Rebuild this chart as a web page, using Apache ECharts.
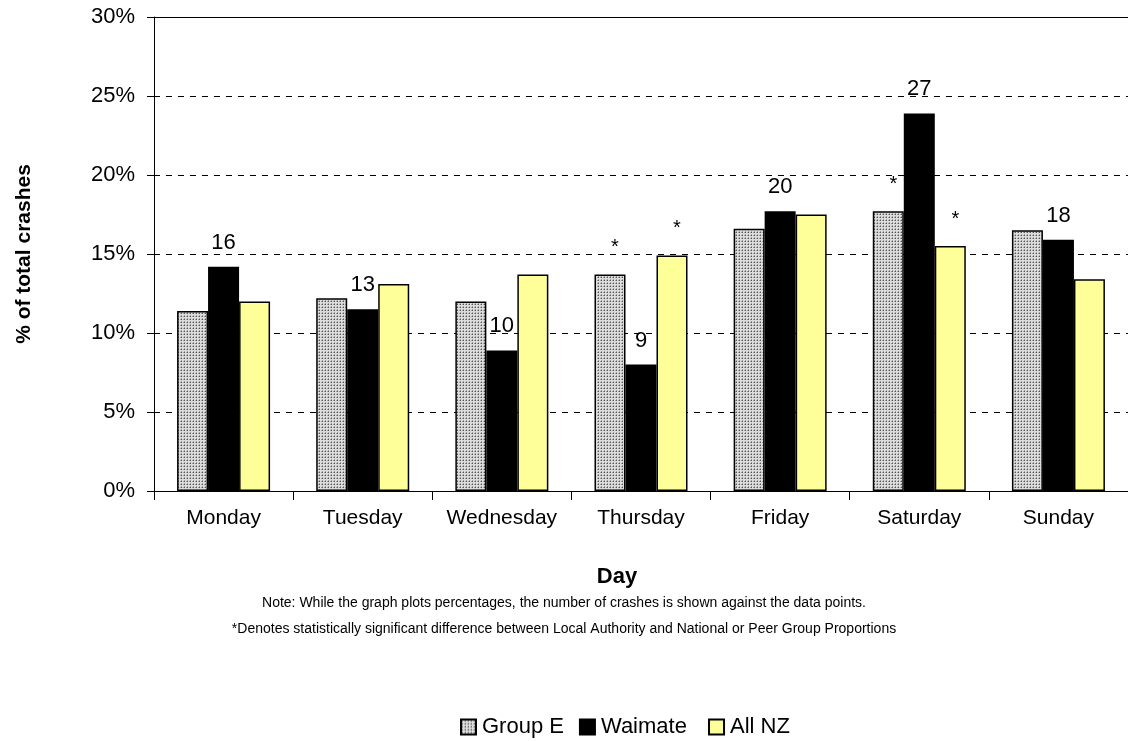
<!DOCTYPE html>
<html><head><meta charset="utf-8">
<script src="https://cdn.jsdelivr.net/npm/echarts@6/dist/echarts.min.js"></script>
<style>html,body{margin:0;padding:0;background:#fff}#c{width:1128px;height:741px}</style>
</head><body><div id="c"></div>
<script>
const days = ['Monday','Tuesday','Wednesday','Thursday','Friday','Saturday','Sunday'];
const groupE = [11.4, 12.2, 12.0, 13.7, 16.6, 17.7, 16.5];
const waimate = [14.2, 11.5, 8.9, 8.0, 17.7, 23.9, 15.9];
const allNZ = [12.0, 13.1, 13.7, 14.9, 17.5, 15.5, 13.4];
const waimateCounts = [16, 13, 10, 9, 20, 27, 18];
const groupEStars = ['', '', '', '*', '', '*', ''];
const allNZStars = ['', '', '', '*', '', '*', ''];
const yTicks = [0, 5, 10, 15, 20, 25, 30];

const FONT = 'Liberation Sans, Arial, sans-serif';
const pc = document.createElement('canvas');
pc.width = 3; pc.height = 3;
const g = pc.getContext('2d');
g.fillStyle = '#dcdcdc'; g.fillRect(0,0,3,3);
g.fillStyle = '#565656';
g.fillRect(1,1,1,1);
g.fillStyle = '#a0a0a0';
g.fillRect(0,1,1,1); g.fillRect(1,0,1,1);
const pattern = {image: pc, repeat: 'repeat'};

const chart = echarts.init(document.getElementById('c'), null, {renderer: 'canvas'});
const starLabel = (arr) => ({show: true, position: 'top', distance: 16, offset: [5, -1], fontSize: 20, color: '#000', fontFamily: FONT,
  formatter: p => arr[p.dataIndex]});
chart.setOption({
  animation: false,
  textStyle: {fontFamily: FONT},
  grid: {left: 154, top: 17, width: 980, height: 474},
  xAxis: {
    type: 'category', data: days,
    axisLine: {lineStyle: {color: '#000', width: 1}},
    axisTick: {show: true, length: 9, interval: 0, lineStyle: {color: '#000'}},
    axisLabel: {color: '#000', fontSize: 21, margin: 17, interval: 0, fontFamily: FONT}
  },
  yAxis: {
    type: 'value', min: 0, max: 30, interval: 5,
    axisLine: {show: true, lineStyle: {color: '#000', width: 1}},
    axisTick: {show: true, length: 7, lineStyle: {color: '#000'}},
    axisLabel: {color: '#000', fontSize: 22, margin: 19, fontFamily: FONT,
      formatter: v => yTicks.includes(v) ? v + '%' : ''},
    splitLine: {show: true, lineStyle: {color: '#000', type: [6, 6], width: 1}},
    name: '% of total crashes', nameLocation: 'middle', nameGap: 119, nameRotate: 90,
    nameTextStyle: {fontSize: 21, fontWeight: 'bold', color: '#000', fontFamily: FONT}
  },
  legend: {
    left: 460, top: 716, padding: 0, itemWidth: 15, itemHeight: 15, itemGap: 15, icon: 'rect',
    textStyle: {fontSize: 22, color: '#000', fontFamily: FONT, padding: [0,0,0,1]},
    formatter: n => n === 'Waimate' ? n + ' ' : n,
    data: ['Group E', 'Waimate', 'All NZ']
  },
  series: [
    {name: 'Group E', type: 'bar', data: groupE, barWidth: 31, barGap: '0%',
     itemStyle: {color: pattern, borderColor: '#000', borderWidth: 1.5},
     label: starLabel(groupEStars),
     markLine: {silent: true, symbol: 'none', label: {show: false},
       lineStyle: {color: '#000', type: 'solid', width: 1}, data: [{yAxis: 30}]}},
    {name: 'Waimate', type: 'bar', data: waimate, barWidth: 31, barGap: '0%',
     itemStyle: {color: '#000', borderColor: '#000', borderWidth: 1.5},
     label: {show: true, position: 'top', distance: 13, fontSize: 22, color: '#000', fontFamily: FONT,
       formatter: p => waimateCounts[p.dataIndex]}},
    {name: 'All NZ', type: 'bar', data: allNZ, barWidth: 31, barGap: '0%',
     itemStyle: {color: '#ffff99', borderColor: '#000', borderWidth: 1.5},
     label: starLabel(allNZStars)}
  ],
  graphic: [
    {type: 'text', x: 617, y: 566, style: {text: 'Day', fontSize: 22, fontWeight: 'bold', fill: '#000', fontFamily: FONT, align: 'center', verticalAlign: 'top'}},
    {type: 'text', left: 'center', top: 596, style: {text: 'Note: While the graph plots percentages, the number of crashes is shown against the data points.', fontSize: 14, fill: '#000', fontFamily: FONT}},
    {type: 'text', left: 'center', top: 622, style: {text: '*Denotes statistically significant difference between Local Authority and National or Peer Group Proportions', fontSize: 14, fill: '#000', fontFamily: FONT}}
  ]
});
</script></body></html>
